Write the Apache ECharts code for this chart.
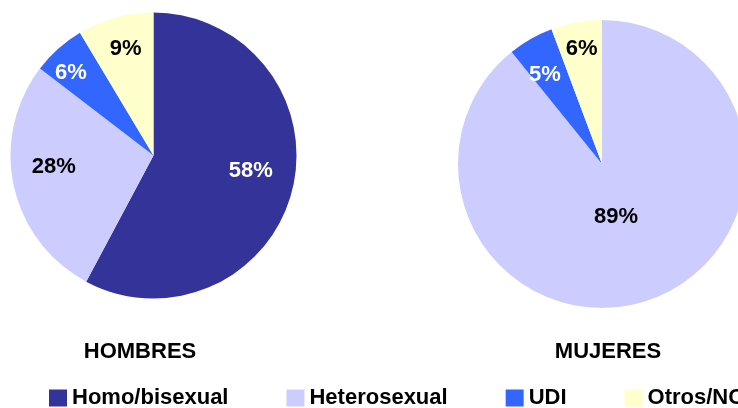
<!DOCTYPE html>
<html>
<head>
<meta charset="utf-8">
<script src="https://cdn.jsdelivr.net/npm/echarts@6/dist/echarts.min.js"></script>
<style>
  html, body { margin: 0; padding: 0; background: #fff; }
  #chart { width: 738px; height: 408px; }
</style>
</head>
<body>
<div id="chart"></div>
<script>
// datos (porcentaje por vía de transmisión)
const categorias = ['Homo/bisexual', 'Heterosexual', 'UDI', 'Otros/NC']
const hombres = [57.8, 27.6, 6.0, 8.6]
const mujeres = [0, 89.2, 5.1, 5.7]
const titulos = ['HOMBRES', 'MUJERES']

const colores = ['#333399', '#CCCCFF', '#3366FF', '#FFFFCC']
const coloresTexto = ['#fff', '#000', '#fff', '#000']
// desplazamiento de etiquetas respecto a la posición "inside"
const offsetsH = [[25, -3], [-27, -4], [-33, -27], [-8, -35]]
const offsetsM = [[0, 0], [-11, -18], [-20, -24], [-7, -41]]

const fuente = "'Liberation Sans', Arial, sans-serif"

const buildData = (valores, offsets) =>
  categorias
    .map((nombre, i) => ({
      name: nombre,
      value: valores[i],
      itemStyle: { color: colores[i] },
      label: { color: coloresTexto[i], offset: offsets[i] }
    }))
    .filter(d => d.value > 0)

const myChart = echarts.init(document.getElementById('chart'))
myChart.setOption({
  animation: false,
  title: [
    { text: titulos[0], left: 135, top: 336, textAlign: 'center' },
    { text: titulos[1], left: 603, top: 336, textAlign: 'center' }
  ].map(t => ({
    ...t,
    textStyle: { fontFamily: fuente, fontSize: 22, fontWeight: 'bold', color: '#000' }
  })),
  legend: {
    data: categorias,
    left: 44,
    top: 382,
    width: 1200,
    itemWidth: 18,
    itemHeight: 17,
    itemGap: 58,
    icon: 'rect',
    selectedMode: false,
    textStyle: { fontFamily: fuente, fontSize: 22, fontWeight: 'bold', color: '#000' }
  },
  series: [
    {
      type: 'pie',
      center: [153.5, 155.5],
      radius: 143,
      startAngle: 90,
      clockwise: true,
      label: {
        position: 'inside',
        formatter: p => Math.round(p.value) + '%',
        fontFamily: fuente,
        fontSize: 22,
        fontWeight: 'bold'
      },
      labelLine: { show: false },
      emphasis: { disabled: true },
      data: buildData(hombres, offsetsH)
    },
    {
      type: 'pie',
      center: [602, 164],
      radius: 144,
      startAngle: 90,
      clockwise: true,
      label: {
        position: 'inside',
        formatter: p => Math.round(p.value) + '%',
        fontFamily: fuente,
        fontSize: 22,
        fontWeight: 'bold'
      },
      labelLine: { show: false },
      emphasis: { disabled: true },
      data: buildData(mujeres, offsetsM)
    }
  ]
})
</script>
</body>
</html>
